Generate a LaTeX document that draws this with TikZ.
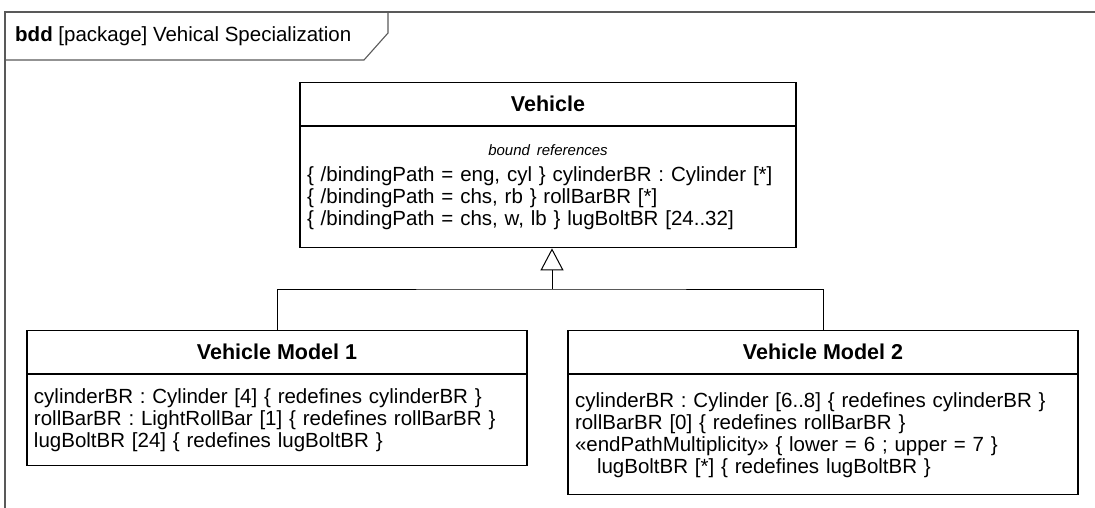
\documentclass[tikz,border=0pt]{standalone}
\usepackage{fontspec}
\setmainfont{Liberation Sans}
\usetikzlibrary{arrows.meta,positioning}

\begin{document}
\begin{tikzpicture}[
  x=1pt,
  y=-1pt,
  every node/.style={font=\fontsize{20.5}{22}\selectfont},
  frameline/.style={
    draw=black!65,
    line width=1.1pt
  },
  blocktitle/.style={
    draw=black,
    line width=1.2pt,
    minimum height=43pt,
    inner sep=0pt,
    font=\fontsize{21.5}{22}\selectfont\bfseries
  },
  blockbody/.style={
    draw=black,
    line width=1.2pt,
    inner xsep=7pt,
    inner ysep=0pt,
    align=left
  },
  gen/.style={
    -{Triangle[open,length=22pt,width=23pt,fill=white]},
    line width=1pt,
    black
  },
  link/.style={
    line width=1pt,
    black
  }
]
\useasboundingbox (0,0) rectangle (1095,508);

% diagram frame and its tab
\draw[frameline] (5,508) -- (5,12) -- (1095,12);
\draw[frameline] (5,60) -- (364,60) -- (388,33) -- (388,12);
\node[anchor=west,inner sep=0pt] (frametitle) at (15,36)
  {\textbf{bdd} [package] Vehical Specialization};

% general block
\node[blocktitle,minimum width=496pt,anchor=north] (vehicle) at (548,82)
  {Vehicle};
\node[blockbody,below=0pt of vehicle,text width=482pt,minimum height=121pt]
  (vehiclebody)
  {\makebox[\linewidth]{\itshape\fontsize{15}{18}\selectfont bound references}\\[4pt]
   \{ /bindingPath = eng, cyl \} cylinderBR : Cylinder [*]\\
   \{ /bindingPath = chs, rb \} rollBarBR [*]\\
   \{ /bindingPath = chs, w, lb \} lugBoltBR [24..32]\\[8pt]};

% specialized blocks
\node[blocktitle,minimum width=500pt,anchor=north] (model1) at (277,330)
  {Vehicle Model 1};
\node[blockbody,below=0pt of model1,text width=486pt,minimum height=91pt]
  (model1body)
  {cylinderBR : Cylinder [4] \{ redefines cylinderBR \}\\
   rollBarBR : LightRollBar [1] \{ redefines rollBarBR \}\\
   lugBoltBR [24] \{ redefines lugBoltBR \}};

\node[blocktitle,minimum width=510pt,anchor=north] (model2) at (823,330)
  {Vehicle Model 2};
\node[blockbody,below=0pt of model2,text width=496pt,minimum height=120pt]
  (model2body)
  {cylinderBR : Cylinder [6..8] \{ redefines cylinderBR \}\\
   rollBarBR [0] \{ redefines rollBarBR \}\\
   «endPathMultiplicity» \{ lower = 6 ; upper = 7 \}\\
   \hspace*{22pt}lugBoltBR [*] \{ redefines lugBoltBR \}};

% generalization tree
\coordinate (join) at (552,289);
\draw[gen] (join) -- (join |- vehiclebody.south);
\draw[link] (model1.north) |- (join) -| (model2.north);

\end{tikzpicture}
\end{document}
